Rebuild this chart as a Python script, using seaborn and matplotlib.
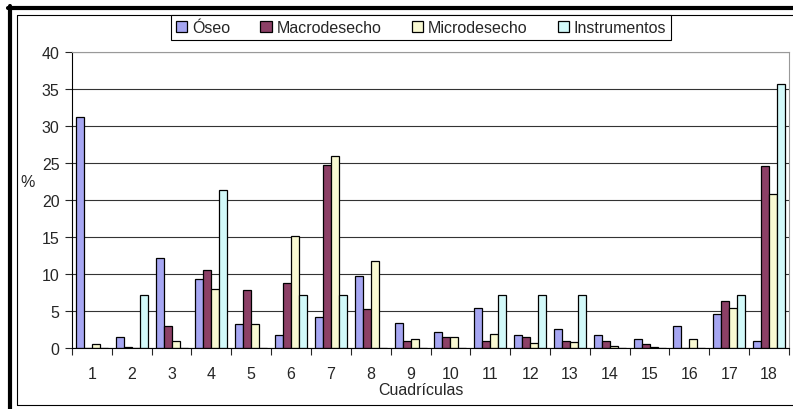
import matplotlib
matplotlib.use("Agg")
import matplotlib.pyplot as plt
from matplotlib.lines import Line2D
from matplotlib.ticker import FixedLocator
import numpy as np
import pandas as pd
import seaborn as sns

# datos
cuadriculas = [str(i) for i in range(1, 19)]
series = ["Óseo", "Macrodesecho", "Microdesecho", "Instrumentos"]
oseo = [31.2, 1.5, 12.1, 9.3, 3.2, 1.7, 4.2, 9.7, 3.4, 2.2, 5.4, 1.7, 2.6, 1.7, 1.2, 3.0, 4.6, 1.0]
macro = [0.0, 0.1, 3.0, 10.6, 7.8, 8.8, 24.7, 5.3, 1.0, 1.5, 1.0, 1.5, 1.0, 1.0, 0.5, 0.0, 6.3, 24.6]
micro = [0.5, 0.0, 1.0, 8.0, 3.2, 15.2, 25.9, 11.7, 1.2, 1.5, 1.9, 0.7, 0.8, 0.3, 0.1, 1.2, 5.4, 20.8]
instr = [0.0, 7.1, 0.0, 21.4, 0.0, 7.1, 7.1, 0.0, 0.0, 0.0, 7.1, 7.1, 7.1, 0.0, 0.0, 0.0, 7.1, 35.7]
colores = ["#9999FF", "#993366", "#FFFFCC", "#CCFFFF"]

df = pd.DataFrame({"Cuadrícula": cuadriculas * 4,
                   "Serie": np.repeat(series, 18),
                   "valor": oseo + macro + micro + instr})

sns.set_style("white")
plt.rcParams["font.family"] = ["Liberation Sans", "DejaVu Sans"]
fs = 11.5
plt.rcParams["font.size"] = fs

fig = plt.figure(figsize=(7.93, 4.10), dpi=100)
ax = fig.add_axes([72 / 793, 1 - 349 / 410, (789 - 72) / 793, (349 - 53) / 410])

sns.barplot(data=df, x="Cuadrícula", y="valor", hue="Serie", palette=colores,
            width=0.8, edgecolor="black", linewidth=0.9, ax=ax, legend=True)

ax.set_ylim(0, 40)
ax.set_xlim(-0.5, 17.5)
ax.set_yticks(range(0, 41, 5))
ax.yaxis.grid(True, color="#333333", linewidth=0.8)
ax.set_axisbelow(True)
ax.set_xlabel("")
ax.set_ylabel("")
ax.tick_params(axis="x", length=0, pad=13, labelsize=fs)
ax.xaxis.set_minor_locator(FixedLocator(np.arange(-0.5, 18, 1)))
ax.tick_params(axis="x", which="minor", length=5, width=0.8, direction="out", bottom=True)
ax.tick_params(axis="y", length=5, width=0.8, direction="out", left=True, pad=4, labelsize=fs)
for s in ["left", "bottom"]:
    ax.spines[s].set_color("black")
    ax.spines[s].set_linewidth(0.8)
for s in ["top", "right"]:
    ax.spines[s].set_color("#999999")
    ax.spines[s].set_linewidth(0.8)

handles, labels = ax.get_legend_handles_labels()
ax.get_legend().remove()
leg = fig.legend(handles, labels, loc="upper center", bbox_to_anchor=(421 / 793, 1 - 16 / 410),
                 ncol=4, frameon=True, fancybox=False, edgecolor="black", framealpha=1,
                 handlelength=0.7, handleheight=0.7, handletextpad=0.3, columnspacing=1.9,
                 borderpad=0.3, borderaxespad=0, fontsize=fs)
leg.get_frame().set_linewidth(0.8)

fig.text(28 / 793, 1 - 183 / 410, "%", ha="center", va="center", fontsize=fs)
fig.text(421 / 793, 1 - 391 / 410, "Cuadrículas", ha="center", va="center", fontsize=fs)

# marcos exteriores
fig.add_artist(Line2D([8 / 793, 1], [1 - 9 / 410] * 2, color="black", linewidth=3, transform=fig.transFigure))
fig.add_artist(Line2D([10 / 793] * 2, [0, 1 - 7 / 410], color="black", linewidth=3, transform=fig.transFigure))
fig.add_artist(Line2D([17 / 793, 1], [1 - 16 / 410] * 2, color="black", linewidth=0.8, transform=fig.transFigure))
fig.add_artist(Line2D([17 / 793] * 2, [1 - 406 / 410, 1 - 16 / 410], color="black", linewidth=0.8, transform=fig.transFigure))
fig.add_artist(Line2D([17 / 793, 1], [1 - 406 / 410] * 2, color="black", linewidth=0.8, transform=fig.transFigure))

fig.savefig("out.png", dpi=100)
